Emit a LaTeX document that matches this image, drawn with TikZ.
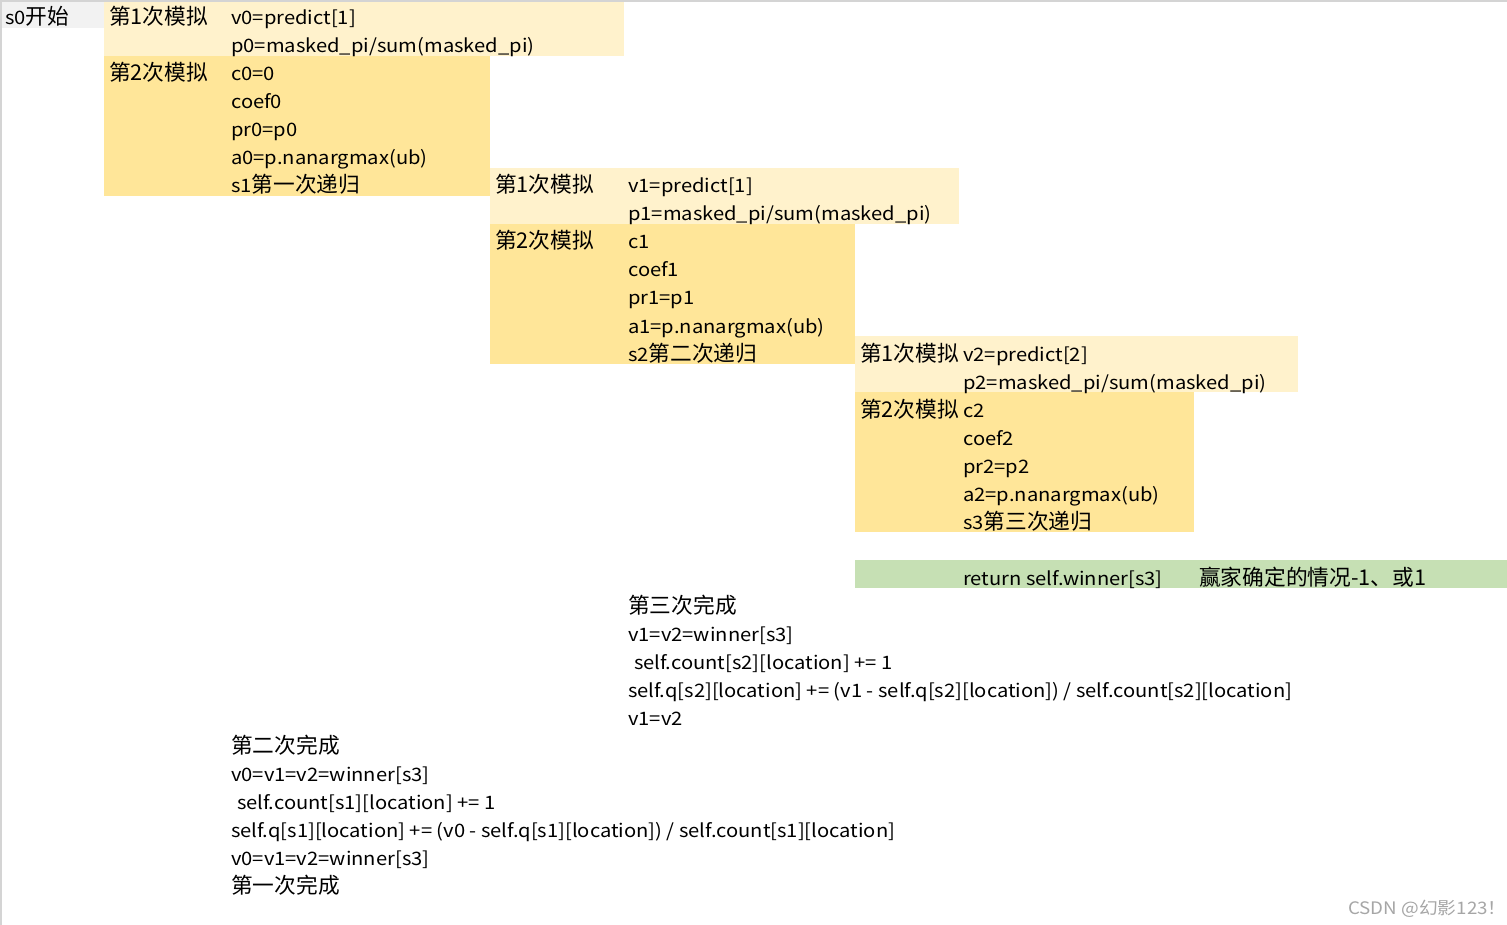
\documentclass[tikz,border=0pt]{standalone}
\usepackage{fontspec}
\setmainfont{Noto Sans CJK SC}[FakeStretch=1.09]
\newfontfamily\zhfont{Noto Sans CJK SC}
\newcommand\zh[1]{{\zhfont\fontsize{21.7}{24}\selectfont #1}}
\definecolor{StartColor}{HTML}{F2F2F2}
\definecolor{SimOneColor}{HTML}{FFF2CC}
\definecolor{SimTwoColor}{HTML}{FFE699}
\definecolor{ReturnColor}{HTML}{C6E0B4}
\definecolor{GridColor}{HTML}{D4D4D4}
\definecolor{MarkColor}{HTML}{A6A6A6}

\tikzset{
  cell/.style={anchor=base west, inner sep=0pt, font=\fontsize{18.5}{24}\selectfont},
  mark text/.style={anchor=base west, inner sep=0pt, text=MarkColor, font=\fontsize{17.2}{20}\selectfont}
}

\begin{document}
\begin{tikzpicture}[x=1pt,y=-1pt]
  % ===== Parámetros =====
  \def\rowh{28}
  \def\base{25}   % línea base de la primera fila
  \def\colA{5}
  \def\colB{109}
  \def\colC{231}
  \def\colD{495}
  \def\colE{628}
  \def\colF{860}
  \def\colG{963}
  \def\colH{1199}

  \fill[white] (0,0) rectangle (1507,925);
  \useasboundingbox (0,0) rectangle (1507,925);

  % ===== Bloques =====
  \fill[StartColor]  (0,2)     rectangle (104,28);
  \fill[SimOneColor] (104,2)   rectangle (624,56);
  \fill[SimTwoColor] (104,56)  rectangle (490,196);
  \fill[SimOneColor] (490,168) rectangle (959,224);
  \fill[SimTwoColor] (490,224) rectangle (855,364);
  \fill[SimOneColor] (855,336) rectangle (1298,392);
  \fill[SimTwoColor] (855,392) rectangle (1194,532);
  \fill[ReturnColor] (855,560) rectangle (1507,588);

  % bordes de la hoja
  \draw[GridColor, line width=2pt] (0,1) -- (1507,1);
  \draw[GridColor, line width=2pt] (1,0) -- (1,925);

  % ===== Primera llamada (s0) =====
  \node[cell] (start)  at (\colA,{\base+\rowh*0}) {s0\zh{开始}};
  \node[cell] (simA)   at (\colB,{\base+\rowh*0}) {\zh{第1次模拟}};
  \node[cell] (v0)     at (\colC,{\base+\rowh*0}) {v0=predict[1]};
  \node[cell] (p0)     at (\colC,{\base+\rowh*1}) {p0=masked\_pi/sum(masked\_pi)};
  \node[cell] (simB)   at (\colB,{\base+\rowh*2}) {\zh{第2次模拟}};
  \node[cell] (c0)     at (\colC,{\base+\rowh*2}) {c0=0};
  \node[cell] (coef0)  at (\colC,{\base+\rowh*3}) {coef0};
  \node[cell] (pr0)    at (\colC,{\base+\rowh*4}) {pr0=p0};
  \node[cell] (a0)     at (\colC,{\base+\rowh*5}) {a0=p.nanargmax(ub)};
  \node[cell] (s1)     at (\colC,{\base+\rowh*6}) {s1\zh{第一次递归}};

  % ===== Segunda llamada (s1) =====
  \node[cell] (simC)   at (\colD,{\base+\rowh*6}) {\zh{第1次模拟}};
  \node[cell] (v1)     at (\colE,{\base+\rowh*6}) {v1=predict[1]};
  \node[cell] (p1)     at (\colE,{\base+\rowh*7}) {p1=masked\_pi/sum(masked\_pi)};
  \node[cell] (simD)   at (\colD,{\base+\rowh*8}) {\zh{第2次模拟}};
  \node[cell] (c1)     at (\colE,{\base+\rowh*8}) {c1};
  \node[cell] (coef1)  at (\colE,{\base+\rowh*9}) {coef1};
  \node[cell] (pr1)    at (\colE,{\base+\rowh*10}) {pr1=p1};
  \node[cell] (a1)     at (\colE,{\base+\rowh*11}) {a1=p.nanargmax(ub)};
  \node[cell] (s2)     at (\colE,{\base+\rowh*12}) {s2\zh{第二次递归}};

  % ===== Tercera llamada (s2) =====
  \node[cell] (simE)   at (\colF,{\base+\rowh*12}) {\zh{第1次模拟}};
  \node[cell] (v2)     at (\colG,{\base+\rowh*12}) {v2=predict[2]};
  \node[cell] (p2)     at (\colG,{\base+\rowh*13}) {p2=masked\_pi/sum(masked\_pi)};
  \node[cell] (simF)   at (\colF,{\base+\rowh*14}) {\zh{第2次模拟}};
  \node[cell] (c2)     at (\colG,{\base+\rowh*14}) {c2};
  \node[cell] (coef2)  at (\colG,{\base+\rowh*15}) {coef2};
  \node[cell] (pr2)    at (\colG,{\base+\rowh*16}) {pr2=p2};
  \node[cell] (a2)     at (\colG,{\base+\rowh*17}) {a2=p.nanargmax(ub)};
  \node[cell] (s3)     at (\colG,{\base+\rowh*18}) {s3\zh{第三次递归}};

  % ===== Retorno =====
  \node[cell] (ret)    at (\colG,{\base+\rowh*20}) {return self.winner[s3]};
  \node[cell] (retnote) at (\colH,{\base+\rowh*20}) {\zh{赢家确定的情况-1、或1}};

  % ===== Vuelta de la recursión =====
  \node[cell] (doneC)  at (\colE,{\base+\rowh*21}) {\zh{第三次完成}};
  \node[cell] (backC1) at (\colE,{\base+\rowh*22}) {v1=v2=winner[s3]};
  \node[cell] (backC2) at (\colE+6,{\base+\rowh*23}) {self.count[s2][location] += 1};
  \node[cell] (backC3) at (\colE,{\base+\rowh*24}) {self.q[s2][location] += (v1 - self.q[s2][location]) / self.count[s2][location]};
  \node[cell] (backC4) at (\colE,{\base+\rowh*25}) {v1=v2};

  \node[cell] (doneB)  at (\colC,{\base+\rowh*26}) {\zh{第二次完成}};
  \node[cell] (backB1) at (\colC,{\base+\rowh*27}) {v0=v1=v2=winner[s3]};
  \node[cell] (backB2) at (\colC+6,{\base+\rowh*28}) {self.count[s1][location] += 1};
  \node[cell] (backB3) at (\colC,{\base+\rowh*29}) {self.q[s1][location] += (v0 - self.q[s1][location]) / self.count[s1][location]};
  \node[cell] (backB4) at (\colC,{\base+\rowh*30}) {v0=v1=v2=winner[s3]};
  \node[cell] (doneA)  at (\colC,{\base+\rowh*31}) {\zh{第一次完成}};

  % marca de agua
  \node[mark text] (mark) at (1348,914) {CSDN @幻影123！};

\end{tikzpicture}
\end{document}
